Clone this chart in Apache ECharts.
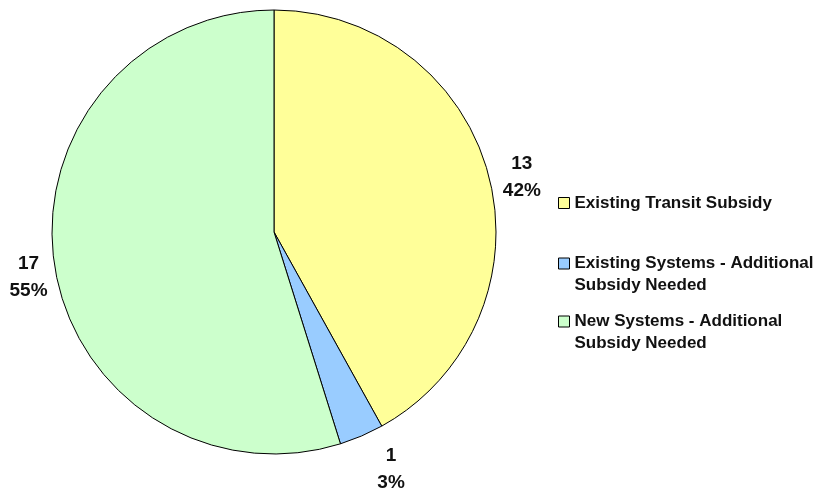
<!DOCTYPE html>
<html>
<head>
<meta charset="utf-8">
<script src="https://cdn.jsdelivr.net/npm/echarts@6/dist/echarts.min.js"></script>
<style>html,body{margin:0;padding:0;background:#fff;}#c{width:814px;height:491px;}</style>
</head>
<body>
<div id="c"></div>
<script>
const categories = ['Existing Transit Subsidy', 'Existing Systems - Additional Subsidy Needed', 'New Systems - Additional Subsidy Needed'];
const legendLabels = ['Existing Transit Subsidy', 'Existing Systems - Additional\nSubsidy Needed', 'New Systems - Additional\nSubsidy Needed'];
const values = [13, 1, 17];
const colors = ['#FFFF99', '#99CCFF', '#CCFFCC'];

const FONT = "'Liberation Sans Narrow', 'Liberation Sans', Arial, sans-serif";
const FSIZE = 17;
const labelShift = [[0, 1], [3, 31], [7, 11]];

const chart = echarts.init(document.getElementById('c'), null, {renderer: 'canvas'});

function legendFor(i, top, twoLine) {
  return {
    data: [categories[i]],
    orient: 'vertical',
    left: 558,
    top: top,
    padding: 0,
    itemWidth: 11,
    itemHeight: twoLine ? 44 : 11,
    itemGap: 0,
    icon: twoLine ? 'path://M0,5.5H11V16.5H0Z M0,0 M11,44' : 'rect',
    selectedMode: false,
    formatter: function (name) { return legendLabels[categories.indexOf(name)]; },
    textStyle: {fontFamily: FONT, fontSize: FSIZE, fontWeight: 'bold', color: '#111', lineHeight: 22},
    itemStyle: {borderColor: '#000', borderWidth: 1}
  };
}

chart.setOption({
  backgroundColor: '#fff',
  animation: false,
  legend: [legendFor(0, 192, false), legendFor(1, 252, true), legendFor(2, 310, true)],
  series: [{
    type: 'pie',
    center: [274, 232],
    radius: 222,
    startAngle: 90,
    clockwise: true,
    percentPrecision: 0,
    avoidLabelOverlap: false,
    emphasis: {disabled: true},
    data: categories.map((n, i) => ({name: n, value: values[i], itemStyle: {color: colors[i]}})),
    itemStyle: {borderColor: '#000', borderWidth: 1},
    label: {
      show: true,
      position: 'outside',
      formatter: '{v|{c}}\n{v|{d}%}',
      rich: {v: {align: 'center', fontFamily: FONT, fontSize: 19, fontWeight: 'bold', color: '#111', lineHeight: 27}}
    },
    labelLine: {show: false, length: 2, length2: 7},
    labelLayout: function (p) { const s = labelShift[p.dataIndex]; return {dx: s[0], dy: s[1]}; }
  }]
});
</script>
</body>
</html>
